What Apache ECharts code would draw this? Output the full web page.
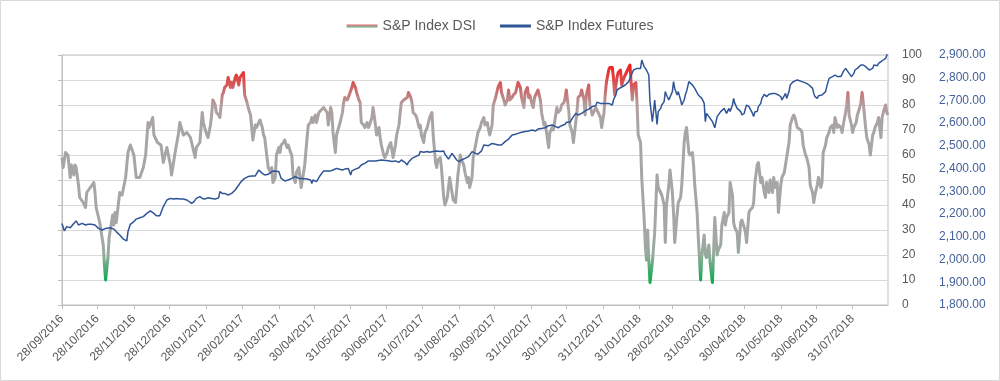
<!DOCTYPE html>
<html>
<head>
<meta charset="utf-8">
<script src="https://cdn.jsdelivr.net/npm/echarts@6/dist/echarts.min.js"></script>
<style>
html,body{margin:0;padding:0;background:#fff;}
#chart{width:1000px;height:381px;}
</style>
</head>
<body>
<div id="chart"></div>
<script>
// Start date of the x axis; every point below is [days since start, value]
const startDate = '2016-09-28';
const endDay = 701;

const tickLabels = ['28/09/2016','28/10/2016','28/11/2016','28/12/2016','28/01/2017','28/02/2017',
  '31/03/2017','30/04/2017','31/05/2017','30/06/2017','31/07/2017','31/08/2017','30/09/2017',
  '31/10/2017','30/11/2017','31/12/2017','31/01/2018','28/02/2018','31/03/2018','30/04/2018',
  '31/05/2018','30/06/2018','31/07/2018'];

const seriesNames = ['S&P Index DSI', 'S&P Index Futures'];

const dsiData = [
[0,59],[1,55],[3,61],[5,60],[7,51],[8,56],[10,52],[11,56],[12,55],[14,48],[15,43],[18,41],[20,39],[21,45],[24,47],[27,49],[28,45],[29,39],[32,33],[35,24],[36,16],[37,10],[39,19],[40,27],[42,33],[43,36],[44,32],[45,37],[46,33],[48,41],[49,45],[51,44],[54,51],[56,61],[58,64],[61,60],[63,51],[66,51],[69,55],[71,60],[73,73],[74,71],[77,75],[78,68],[81,65],[84,64],[86,57],[89,63],[92,56],[93,52],[96,61],[99,69],[100,73],[103,68],[106,69],[109,67],[112,61],[113,59],[114,63],[117,65],
[119,77],[120,73],[121,71],[123,68],[124,67],[126,72],[127,76],[128,82],[130,80],[131,77],[133,76],[134,75],[136,84],[137,85],[138,87],[140,88],[141,91],[143,87],[144,89],[145,87],[147,91],[148,92],[150,88],[151,91],[152,91],[154,93],[155,84],[157,81],[158,79],[160,76],[161,71],[162,66],[164,72],[165,71],[167,73],[168,74],[170,71],[171,68],[172,67],[174,59],[175,55],[177,53],[178,55],[179,49],[181,51],[182,60],[184,63],[185,61],[186,64],[188,65],[189,66],[191,63],[192,64],[194,61],[195,60],[196,52],[198,49],[199,53],[201,55],[202,51],[203,47],[205,53],[206,56],[208,67],[209,72],[211,73],[212,75],[213,73],[215,76],[216,73],[218,77],[219,77],[220,78],[222,79],[223,79],[225,77],[226,72],[228,79],[229,77],[230,69],[232,61],[233,68],
[236,73],[238,77],[239,81],[240,83],[242,82],[243,83],[244,83],[246,87],[247,89],[249,87],[250,85],[252,82],[253,81],[254,73],[256,72],[257,71],[259,73],[260,71],[261,72],[263,75],[264,79],[266,72],[267,68],[269,71],[270,67],[271,64],[273,60],[274,59],[276,61],[277,63],[279,65],[280,65],[281,59],[283,64],[284,68],[286,72],[287,77],[288,81],[290,82],[291,82],[293,83],[294,85],[296,83],[297,81],[298,77],[300,76],[301,75],[303,71],[304,72],[305,68],[307,65],[308,69],[310,71],[311,73],[312,75],[314,77],[315,68],[317,57],[318,55],[319,58],[321,59],[322,55],[324,43],[325,40],[327,43],[328,47],[329,51],[331,45],[332,42],[334,41],[335,41],[336,52],[338,60],[339,58],[341,56],[342,53],[344,49],[345,51],[346,47],[348,51],[349,59],[351,64],
[352,64],[353,69],[355,71],[356,73],[358,75],[359,72],[361,73],[362,70],[363,68],[365,72],[366,80],[368,83],[369,85],[370,87],[372,89],[373,85],[375,82],[376,80],[378,82],[379,86],[380,82],[382,83],[383,84],[385,85],[386,87],[387,89],[389,87],[390,83],[392,79],[393,85],[395,87],[396,83],[397,84],[399,80],[400,79],[401,83],[403,85],[404,86],[406,82],[407,77],[409,72],[410,73],[411,73],[413,63],[414,69],[416,71],[417,70],[419,76],[420,79],[421,77],[423,78],[424,80],[426,81],[427,83],[428,86],[430,78],[431,72],[433,69],[434,65],[436,73],[437,77],[438,83],[440,84],[441,86],[443,82],[444,76],[445,84],[447,88],[448,80],[450,76],[451,77],[453,79],[454,78],[455,77],[457,75],[458,71],[460,77],[461,84],[462,89],[464,94],[465,95],[467,95],[468,91],[469,84],[471,91],[472,93],
[474,94],[475,88],[477,91],[478,91],[479,93],[481,95],[482,96],[483,89],[484,82],[485,88],[487,89],[488,81],[489,68],[491,65],[492,51],[494,35],[495,24],[496,18],[497,30],[498,18],[499,9],[501,17],[502,23],[503,29],[505,52],[506,47],[508,45],[509,44],[511,40],[512,25],[513,40],[515,48],[516,54],[518,45],[519,37],[520,25],[522,36],[523,41],[525,43],[526,48],[528,65],[529,69],[530,71],[532,61],[533,60],[535,61],[536,56],[537,48],[539,37],[540,27],[542,10],[543,20],[545,28],[546,20],[547,19],[549,24],[550,17],[552,9],[553,21],[554,35],[556,20],[557,22],[559,24],[560,32],[562,37],[563,32],[564,35],[566,37],[567,49],[569,44],[570,33],[571,31],[573,29],[574,21],[576,33],[577,34],[579,31],[580,29],[581,25],[583,37],[584,38],[586,39],[587,41],[588,49],[590,56],[591,57],
[593,49],[594,51],[596,45],[597,43],[598,49],[600,45],[601,50],[603,45],[604,51],[605,47],[607,49],[608,37],[610,48],[611,51],[613,53],[614,56],[615,59],[617,65],[618,72],[620,75],[621,76],[622,75],[624,71],[625,71],[627,70],[628,69],[629,64],[631,60],[632,59],[634,55],[635,48],[637,45],[638,41],[639,44],[641,48],[642,51],[644,47],[645,49],[646,61],[648,64],[649,67],[651,69],[652,71],[654,72],[655,69],[656,75],[658,71],[659,72],[661,71],[662,69],[663,72],[665,77],[666,80],[667,85],[668,76],[670,72],[671,69],[672,71],[674,73],[675,76],[677,79],[678,81],[679,85],[680,81],[682,71],[683,67],[685,64],[686,60],[688,68],[689,69],[690,71],[692,73],[693,75],[695,67],[696,75],[697,77],[699,80],[700,77],[701,76]
];

const futData = [
[0,2159],[2,2126],[4,2145],[7,2140],[10,2159],[12,2170],[14,2152],[17,2159],[20,2152],[22,2155],[25,2155],[28,2152],[31,2137],[34,2130],[37,2137],[41,2140],[44,2134],[46,2123],[49,2108],[52,2090],[55,2082],[56,2123],[58,2155],[61,2167],[63,2178],[66,2184],[69,2189],[72,2203],[75,2214],[78,2203],[80,2193],[83,2193],[86,2233],[89,2262],[92,2269],[95,2266],[97,2269],[100,2266],[103,2266],[106,2262],[110,2247],[112,2255],[114,2269],[117,2277],
[119,2269],[121,2266],[124,2272],[127,2269],[130,2266],[133,2272],[134,2299],[136,2291],[138,2291],[141,2284],[144,2291],[145,2299],[147,2306],[150,2328],[152,2343],[155,2357],[158,2365],[161,2368],[164,2368],[167,2394],[170,2379],[172,2372],[175,2375],[179,2390],[184,2387],[186,2357],[189,2346],[192,2350],[195,2357],[198,2365],[201,2357],[203,2357],[208,2354],[211,2350],[212,2335],[213,2350],[216,2343],[219,2369],[222,2390],[225,2390],[228,2390],[230,2394],[233,2401],
[238,2394],[240,2398],[243,2401],[245,2372],[246,2390],[249,2398],[252,2404],[254,2416],[257,2423],[260,2434],[266,2434],[271,2438],[277,2435],[280,2431],[283,2434],[286,2428],[288,2438],[291,2428],[293,2416],[294,2428],[297,2445],[300,2453],[303,2460],[304,2475],[307,2472],[310,2475],[312,2472],[315,2475],[318,2478],[321,2475],[324,2478],[325,2463],[328,2442],[331,2467],[332,2463],[335,2438],[337,2431],[339,2438],[342,2445],[345,2453],[348,2475],[351,2467],
[353,2463],[356,2478],[358,2504],[362,2501],[365,2511],[368,2507],[370,2504],[373,2504],[376,2519],[379,2530],[382,2548],[385,2551],[387,2555],[390,2560],[393,2563],[396,2566],[399,2570],[402,2566],[404,2574],[407,2577],[410,2580],[413,2589],[416,2592],[419,2585],[420,2577],[421,2580],[424,2589],[427,2595],[428,2604],[431,2604],[434,2629],[436,2643],[438,2636],[441,2643],[444,2654],[447,2662],[450,2673],[453,2677],[454,2692],[457,2687],[461,2687],[464,2687],[467,2680],[468,2702],[470,2724],[471,2746],[472,2753],[474,2756],
[475,2756],[478,2768],[481,2783],[482,2797],[485,2834],[488,2841],[491,2841],[492,2878],[494,2849],[496,2834],[498,2812],[499,2695],[501,2607],[502,2651],[503,2702],[505,2595],[506,2651],[508,2665],[509,2680],[511,2695],[512,2739],[513,2724],[515,2702],[516,2709],[518,2739],[519,2783],[520,2753],[522,2724],[523,2739],[525,2702],[526,2680],[528,2702],[529,2724],[530,2739],[532,2783],[535,2768],[537,2753],[540,2724],[543,2709],[545,2687],[546,2607],[547,2643],[549,2629],[550,2636],[552,2607],[553,2614],[554,2580],[556,2629],[557,2621],[559,2651],[560,2643],[562,2665],[563,2658],[564,2643],[566,2665],[567,2651],[569,2680],[570,2709],[571,2687],[573,2665],[574,2673],[576,2651],[577,2636],[579,2643],[580,2665],[581,2680],[583,2673],[586,2643],[587,2629],[588,2650],
[590,2651],[591,2673],[593,2687],[594,2709],[596,2727],[597,2724],[598,2717],[600,2727],[603,2731],[604,2724],[605,2731],[608,2724],[610,2717],[611,2702],[613,2721],[614,2731],[615,2709],[617,2739],[618,2768],[620,2780],[622,2786],[624,2790],[625,2786],[628,2783],[629,2780],[632,2775],[634,2768],[635,2761],[637,2753],[638,2731],[639,2717],[641,2709],[642,2721],[645,2724],[646,2731],[648,2739],[649,2761],[651,2797],[652,2797],[654,2805],[655,2800],[656,2812],[658,2805],[659,2800],[661,2805],[662,2812],[663,2827],[665,2841],[666,2834],[668,2819],[669,2827],[670,2805],[672,2819],[673,2834],[675,2841],[676,2849],[678,2856],[679,2863],[680,2856],[682,2849],[683,2841],[685,2834],[686,2834],[688,2841],[689,2856],[690,2859],[692,2853],[693,2863],[695,2871],[696,2871],[697,2878],[699,2885],[700,2900],[701,2905]
];

const DAY = 86400000;
const sp = startDate.split('-').map(Number);
const t0 = Date.UTC(sp[0], sp[1] - 1, sp[2]);
// tick positions in days since start
const tickDays = tickLabels.map(s => {
  const p = s.split('/').map(Number);
  return Math.round((Date.UTC(p[2], p[1] - 1, p[0]) - t0) / DAY);
});
const pad = n => (n < 10 ? '0' : '') + n;
const fmtDay = v => { const d = new Date(t0 + v * DAY); return pad(d.getUTCDate()) + '/' + pad(d.getUTCMonth() + 1) + '/' + d.getUTCFullYear(); };

const FONT = 'Liberation Sans';
const chart = echarts.init(document.getElementById('chart'), null, { renderer: 'canvas' });

const legendGrad = new echarts.graphic.LinearGradient(0, 0, 0, 1, [
  { offset: 0, color: '#e06060' }, { offset: 0.5, color: '#b8a0a0' }, { offset: 1, color: '#50b070' }
]);

chart.setOption({
  animation: false,
  backgroundColor: '#ffffff',
  textStyle: { fontFamily: FONT },
  graphic: [{
    type: 'rect', silent: true, z: -10,
    shape: { x: 0.5, y: 0.5, width: 999, height: 380 },
    style: { fill: 'none', stroke: '#d9d9d9', lineWidth: 1 }
  }],
  legend: {
    top: 14, left: 'center', itemGap: 24, itemWidth: 31, itemHeight: 3,
    textStyle: { color: '#595959', fontSize: 14, fontFamily: FONT },
    data: [
      { name: seriesNames[0], icon: 'rect', itemStyle: { color: legendGrad } },
      { name: seriesNames[1], icon: 'rect', itemStyle: { color: '#2f5597' } }
    ]
  },
  grid: {
    left: 62, right: 112, top: 55, bottom: 76,
    show: true, borderColor: '#bfbfbf', borderWidth: 1,
    containLabel: false, outerBoundsMode: 'none'
  },
  visualMap: {
    show: false, type: 'continuous', seriesIndex: 0, dimension: 1, min: 0, max: 100,
    inRange: { color: ['#00b050', '#12ab52', '#96ab9c', '#a6a6a6', '#a6a6a6', '#a6a6a6', '#a6a6a6', '#a6a6a6', '#b29e9e', '#dc4a4a', '#ff0000'] }
  },
  xAxis: {
    type: 'value', min: 0, max: endDay,
    axisLine: { show: true, onZero: false, lineStyle: { color: '#bfbfbf', width: 1 } },
    axisTick: { show: true, length: 4, customValues: tickDays, lineStyle: { color: '#bfbfbf' } },
    axisLabel: {
      customValues: tickDays, rotate: 45, color: '#595959', fontSize: 12, margin: 12,
      fontFamily: FONT, formatter: v => fmtDay(v), hideOverlap: false
    },
    splitLine: { show: false }
  },
  yAxis: [
    {
      type: 'value', position: 'right', min: 0, max: 100, interval: 10,
      axisLine: { show: false }, axisTick: { show: false },
      axisLabel: { color: '#595959', fontSize: 12, margin: 14, fontFamily: FONT },
      splitLine: { lineStyle: { color: '#d9d9d9', width: 1 } }
    },
    {
      type: 'value', position: 'right', offset: 37, min: 1800, max: 2900, interval: 100,
      axisLine: { show: false }, axisTick: { show: false }, splitLine: { show: false },
      axisLabel: {
        color: '#44619b', fontSize: 12, margin: 14, fontFamily: FONT,
        formatter: v => v.toLocaleString('en-US', { minimumFractionDigits: 2, maximumFractionDigits: 2 })
      }
    },
    {
      type: 'value', position: 'left', min: 0, max: 100, interval: 10,
      axisLine: { show: true, lineStyle: { color: '#bfbfbf' } },
      axisTick: { show: true, length: 4, lineStyle: { color: '#bfbfbf' } },
      axisLabel: { show: false }, splitLine: { show: false }
    }
  ],
  series: [
    {
      name: seriesNames[0], type: 'line', yAxisIndex: 0, symbol: 'none', z: 2,
      lineStyle: { width: 3, join: 'round' },
      data: dsiData
    },
    {
      name: seriesNames[1], type: 'line', yAxisIndex: 1, symbol: 'none', z: 3,
      lineStyle: { width: 1.5, color: '#2f5597' }, itemStyle: { color: '#2f5597' },
      data: futData
    }
  ]
});
</script>
</body>
</html>
